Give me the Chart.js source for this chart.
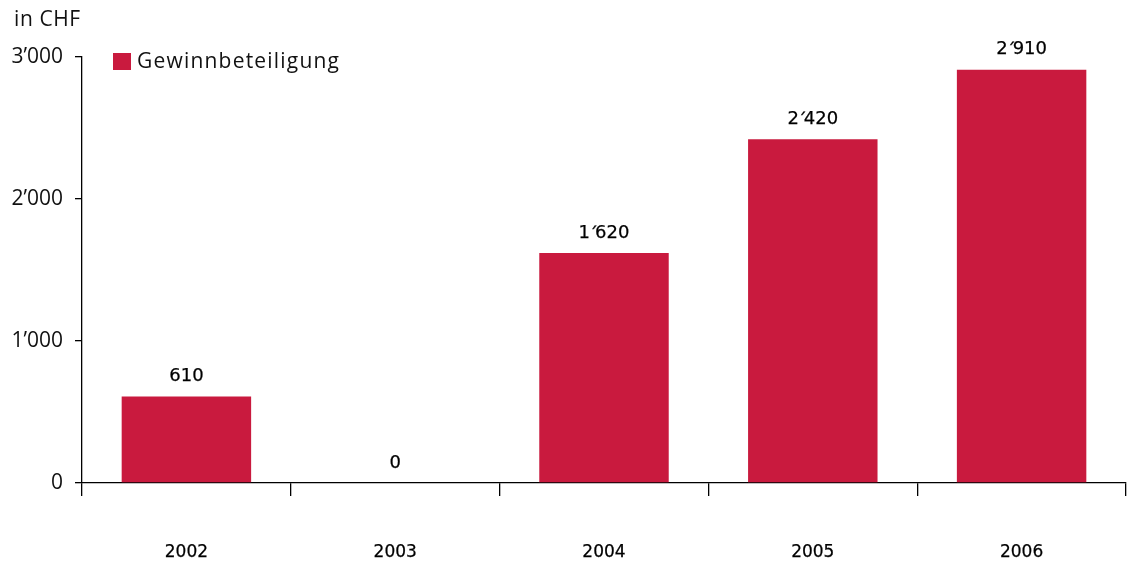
<!DOCTYPE html>
<html>
<head>
<meta charset="utf-8">
<script src="https://cdn.jsdelivr.net/npm/chart.js@4.4.1/dist/chart.umd.min.js"></script>
<style>
  html, body { margin: 0; padding: 0; background: #ffffff; }
  #wrap { width: 1127px; height: 564px; position: relative; }
</style>
</head>
<body>
<div id="wrap"><canvas id="c" width="1127" height="564"></canvas></div>
<script>
// Profit-sharing per year, in CHF
const years = ['2002', '2003', '2004', '2005', '2006'];
const gewinnbeteiligung = [610, 0, 1620, 2420, 2910];
const yTicks = [0, 1000, 2000, 3000];
const seriesName = 'Gewinnbeteiligung';
const unitLabel = 'in CHF';

const barColor = '#C91A3E';
const humanist = '"Open Sans", "Noto Sans", sans-serif';
const verdanaLike = '"DejaVu Sans", Verdana, sans-serif';

function swissFormat(v, sep) {
  const s = String(Math.round(v));
  return s.replace(/\B(?=(\d{3})+(?!\d))/g, sep);
}

// Slightly heavier text: fill plus a thin outline in the same colour
function heavyText(ctx, txt, x, y) {
  ctx.fillText(txt, x, y);
  ctx.strokeText(txt, x, y);
}

// Value labels above bars, legend and unit caption
const decorations = {
  id: 'decorations',
  afterDatasetsDraw(chart) {
    const ctx = chart.ctx;
    const meta = chart.getDatasetMeta(0);
    const data = chart.data.datasets[0].data;
    ctx.save();
    ctx.fillStyle = '#000000';
    ctx.strokeStyle = '#000000';
    ctx.lineWidth = 0.25;
    ctx.font = '18px ' + verdanaLike;
    ctx.textAlign = 'center';
    ctx.textBaseline = 'middle';
    meta.data.forEach((bar, i) => {
      const p = bar.getProps(['x', 'y'], true);
      const txt = String(data[i]);
      if (txt.length > 3) {
        // thousands mark drawn tight between the digit groups
        const head = txt.slice(0, txt.length - 3);
        const tail = txt.slice(txt.length - 3);
        const wHead = ctx.measureText(head).width;
        const wTail = ctx.measureText(tail).width;
        const gap = 5;
        const total = wHead + gap + wTail;
        const x0 = p.x - total / 2;
        ctx.textAlign = 'left';
        heavyText(ctx, head, x0, p.y - 20);
        heavyText(ctx, tail, x0 + wHead + gap, p.y - 20);
        heavyText(ctx, '\u00B4', x0 + wHead - 1, p.y - 18);
        ctx.textAlign = 'center';
      } else {
        heavyText(ctx, txt, p.x, p.y - 20);
      }
    });

    // legend
    const ds = chart.data.datasets[0];
    ctx.fillStyle = ds.backgroundColor;
    ctx.fillRect(113, 53, 18, 17);
    ctx.fillStyle = '#111111';
    ctx.font = '21px ' + humanist;
    ctx.textAlign = 'left';
    ctx.letterSpacing = '1.2px';
    ctx.fillText(ds.label, 137, 62);

    // unit caption
    ctx.letterSpacing = '0.6px';
    ctx.fillText(unitLabel, 14, 20);
    ctx.restore();
  }
};

new Chart(document.getElementById('c'), {
  type: 'bar',
  data: {
    labels: years,
    datasets: [{
      label: seriesName,
      data: gewinnbeteiligung,
      backgroundColor: barColor,
      borderWidth: 0,
      barPercentage: 0.62,
      categoryPercentage: 1.0
    }]
  },
  options: {
    responsive: false,
    animation: false,
    devicePixelRatio: 1,
    layout: { padding: { top: 57, right: 1, left: 0, bottom: 0 } },
    plugins: {
      legend: { display: false },
      tooltip: { enabled: false }
    },
    scales: {
      x: {
        offset: true,
        grid: {
          offset: true,
          drawOnChartArea: false,
          drawTicks: true,
          tickLength: 13,
          color: '#000000',
          lineWidth: 1.3
        },
        border: { display: true, color: '#000000', width: 1.3 },
        ticks: {
          color: '#000000',
          font: { family: verdanaLike, size: 17 },
          textStrokeColor: '#000000',
          textStrokeWidth: 0.25,
          padding: 46
        },
        afterFit(scale) { scale.height = 81; }
      },
      y: {
        min: 0,
        max: 3000,
        afterBuildTicks(scale) {
          scale.ticks = yTicks.map(v => ({ value: v }));
        },
        grid: {
          drawOnChartArea: false,
          drawTicks: true,
          tickLength: 7,
          color: '#000000',
          lineWidth: 1.3
        },
        border: { display: true, color: '#000000', width: 1.3 },
        ticks: {
          color: '#111111',
          font: { family: humanist, size: 21 },
          padding: 12,
          callback: v => swissFormat(v, '\u2019')
        },
        afterFit(scale) { scale.width = 82; }
      }
    }
  },
  plugins: [decorations]
});
</script>
</body>
</html>
